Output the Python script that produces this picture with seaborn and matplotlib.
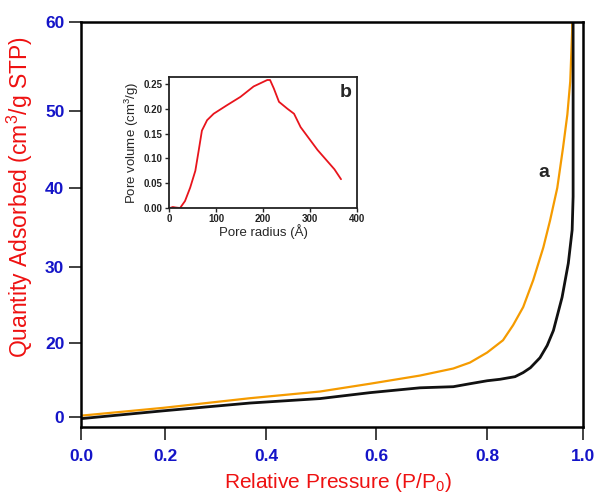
import numpy as np
import seaborn as sns
import matplotlib.pyplot as plt

# isotherm (main panel)
p_ads = [0.0, 0.195, 0.368, 0.498, 0.589, 0.679, 0.739, 0.769, 0.800, 0.833,
         0.854, 0.875, 0.896, 0.917, 0.931, 0.946, 0.958, 0.967, 0.973, 0.977, 0.977]
q_ads = [0.3, 2.4, 5.0, 6.8, 8.9, 11.1, 13.0, 14.6, 17.3, 20.3,
         22.3, 24.7, 28.3, 32.5, 35.9, 40.0, 45.2, 49.5, 53.3, 59.0, 60.0]

p_des = [0.0, 0.195, 0.368, 0.498, 0.589, 0.679, 0.739, 0.769, 0.800, 0.827,
         0.858, 0.875, 0.890, 0.910, 0.925, 0.938, 0.956, 0.969, 0.977, 0.979, 0.979, 0.979]
q_des = [-0.5, 1.6, 3.7, 4.9, 6.5, 7.8, 8.1, 8.9, 9.7, 10.1,
         10.8, 11.9, 13.2, 15.9, 19.2, 21.6, 26.0, 30.5, 34.7, 38.9, 48.8, 60.0]

# pore size distribution (inset)
radius = [2, 8, 14, 23.5, 34, 45, 56, 63, 70, 81, 95, 123, 152, 180, 209, 215,
          223, 234, 252, 266, 280, 316, 352, 366]
pore_vol = [0.0, 0.002, 0.001, 0.0, 0.014, 0.041, 0.075, 0.115, 0.156, 0.177,
            0.19, 0.207, 0.224, 0.245, 0.258, 0.258, 0.241, 0.214, 0.2, 0.19,
            0.163, 0.117, 0.078, 0.058]

x_ticks = [0.0, 0.2, 0.4, 0.6, 0.8, 1.0]
y_ticks = [0, 20, 30, 40, 50, 60]

# the original axes are not evenly spaced, calibrate them piecewise
x_calib = [0, 84, 185, 295, 406, 502]
y_calib = [0, 74, 149, 228, 305, 393]


def piecewise(xs, ys):
    xs = np.asarray(xs, float)
    ys = np.asarray(ys, float)

    def f(v):
        v = np.asarray(v, float)
        out = np.interp(v, xs, ys)
        out = np.where(v < xs[0], ys[0] + (v - xs[0]) * (ys[1] - ys[0]) / (xs[1] - xs[0]), out)
        out = np.where(v > xs[-1], ys[-1] + (v - xs[-1]) * (ys[-1] - ys[-2]) / (xs[-1] - xs[-2]), out)
        return out
    return f


sns.set_theme(style="white")
plt.rcParams['font.family'] = ['Liberation Sans', 'DejaVu Sans']
plt.rcParams['mathtext.fontset'] = 'custom'
plt.rcParams['mathtext.rm'] = 'Liberation Sans'

blue = '#1414c8'
red = '#ee1111'

fig = plt.figure(figsize=(6, 4.95), dpi=100)
ax = fig.add_axes([0.135, 0.137, 0.837, 0.818])

sns.lineplot(x=p_ads, y=q_ads, ax=ax, color='#f59b00', lw=1.6, sort=False, estimator=None)
sns.lineplot(x=p_des, y=q_des, ax=ax, color='#111111', lw=2.0, sort=False, estimator=None)

ax.set_xscale('function', functions=(piecewise(x_ticks, x_calib), piecewise(x_calib, x_ticks)))
ax.set_yscale('function', functions=(piecewise(y_ticks, y_calib), piecewise(y_calib, y_ticks)))
ax.set_xlim(0, 1.0)
ax.set_ylim(-2.8, 60)
ax.set_xticks(x_ticks)
ax.set_yticks(y_ticks)
ax.set_xticklabels([f"{t:.1f}" for t in x_ticks])
ax.set_yticklabels([str(t) for t in y_ticks])
ax.minorticks_off()
ax.tick_params(axis='both', which='major', direction='out', length=9, width=1.3,
               color='#333333', labelsize=12.5, labelcolor=blue, bottom=True, left=True)
ax.tick_params(axis='x', pad=7)
ax.tick_params(axis='y', pad=3)
for lab in ax.get_xticklabels() + ax.get_yticklabels():
    lab.set_fontweight('bold')
for sp in ax.spines.values():
    sp.set_color('black')
    sp.set_linewidth(1.8)

ax.set_xlabel('Relative Pressure (P/P$_\\mathregular{0}$)', color=red, fontsize=15)
ax.set_ylabel('Quantity Adsorbed (cm$^\\mathregular{3}$/g STP)', color=red, fontsize=16.5)
ax.xaxis.set_label_coords(0.512, -0.108)
ax.yaxis.set_label_coords(-0.092, 0.568)
ax.text(0.917, 42, 'a', fontsize=14, fontweight='bold', ha='center', va='center')

# inset
ins = fig.add_axes([0.2817, 0.5798, 0.3133, 0.2646])
sns.lineplot(x=radius, y=pore_vol, ax=ins, color='#e8141c', lw=1.3, sort=False, estimator=None)
ins.set_xlim(0, 400)
ins.set_ylim(0, 0.264)
ins.set_xticks([0, 100, 200, 300, 400])
ins.set_yticks([0.0, 0.05, 0.10, 0.15, 0.20, 0.25])
ins.set_yticklabels(['0.00', '0.05', '0.10', '0.15', '0.20', '0.25'])
ins.tick_params(axis='both', direction='out', length=3, width=1, labelsize=7,
                labelcolor='#222222', bottom=True, left=True, pad=1.5)
for lab in ins.get_xticklabels() + ins.get_yticklabels():
    lab.set_fontweight('bold')
for sp in ins.spines.values():
    sp.set_color('#222222')
    sp.set_linewidth(1.3)
ins.set_xlabel('Pore radius (Å)', fontsize=9.5, labelpad=0)
ins.set_ylabel('Pore volume (cm$^\\mathregular{3}$/g)', fontsize=9.5, labelpad=2)
ins.text(0.94, 0.885, 'b', transform=ins.transAxes, fontsize=14, fontweight='bold',
         ha='center', va='center')

fig.savefig('out.png', dpi=100)
